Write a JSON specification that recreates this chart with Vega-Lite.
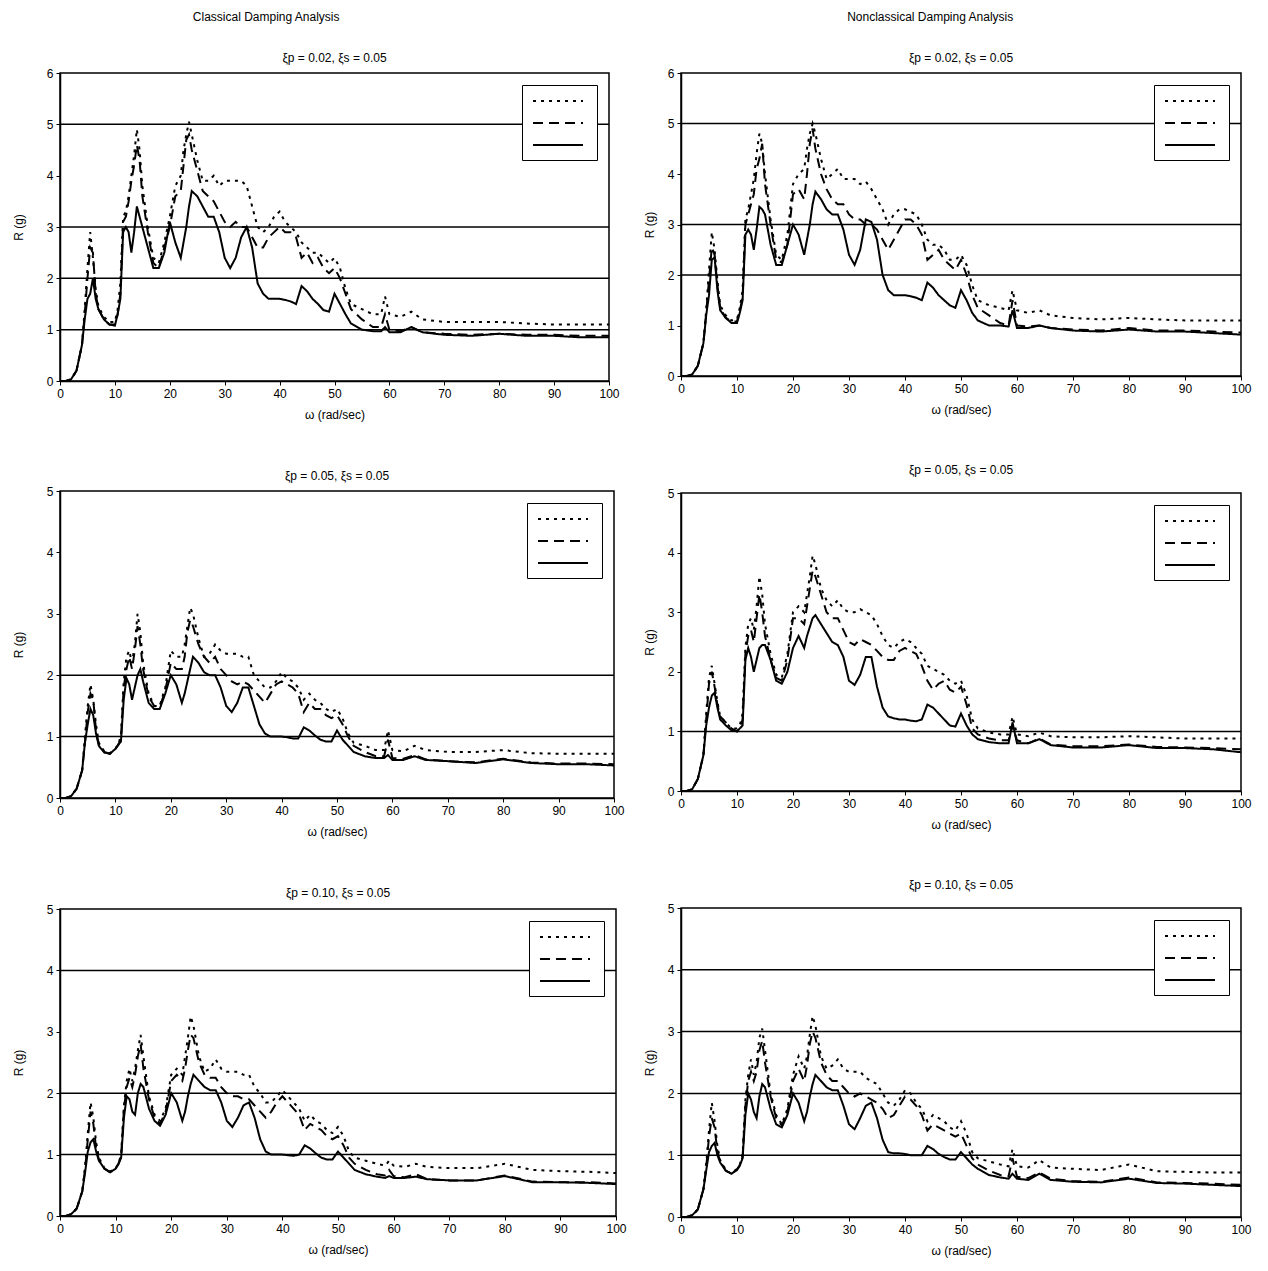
{
"$schema": "https://vega.github.io/schema/vega-lite/v6.json",
"background": "white",
"padding": {"left": 11, "top": 11, "right": 5, "bottom": 5},
"config": {
 "font": "Liberation Sans",
 "view": {"stroke": "black", "strokeWidth": 1.5},
 "axis": {"domainColor": "black", "domainWidth": 1.5, "tickColor": "black", "tickSize": 4, "labelColor": "black", "labelFontSize": 12, "labelFont": "Liberation Sans", "titleFont": "Liberation Sans", "titleFontSize": 12, "titleFontWeight": "normal", "titleColor": "black", "grid": false, "labelPadding": 3},
 "axisX": {"titlePadding": 10, "labelFlush": false},
 "title": {"font": "Liberation Sans", "fontSize": 12, "fontWeight": "normal", "color": "black", "offset": 9, "anchor": "middle"},
 "legend": {"orient": "top-right", "offset": 12, "title": null, "symbolType": "M-1,0L9,0", "symbolSize": 100, "symbolStrokeWidth": 2, "symbolStrokeColor": "black", "strokeColor": "black", "fillColor": "white", "padding": 10, "rowPadding": 11, "labelFontSize": 10, "labelOffset": 0}
},
"datasets": {
 "g": [{"p":1,"R":1},{"p":1,"R":2},{"p":1,"R":3},{"p":1,"R":5},{"p":2,"R":2},{"p":2,"R":3},{"p":2,"R":5},{"p":3,"R":1},{"p":3,"R":2},{"p":4,"R":1},{"p":5,"R":1},{"p":5,"R":2},{"p":5,"R":4},{"p":6,"R":1},{"p":6,"R":2},{"p":6,"R":3},{"p":6,"R":4}],
 "c": [
{"p":1,"x":0,"d":0,"m":0,"s":0},{"p":1,"x":1,"d":0,"m":0,"s":0},{"p":1,"x":2,"d":0.03,"m":0.03,"s":0.03},{"p":1,"x":3,"d":0.2,"m":0.2,"s":0.2},{"p":1,"x":4,"d":0.7,"m":0.7,"s":0.7},{"p":1,"x":4.5,"d":1.4,"m":1.3,"s":1.2},{"p":1,"x":5,"d":2.2,"m":2.0,"s":1.6},{"p":1,"x":5.5,"d":2.9,"m":2.6,"s":1.7},{"p":1,"x":6,"d":2.4,"m":2.5,"s":2.0},{"p":1,"x":6.5,"d":1.8,"m":1.7,"s":1.6},{"p":1,"x":7,"d":1.45,"m":1.4,"s":1.4},{"p":1,"x":8,"d":1.25,"m":1.2,"s":1.2},{"p":1,"x":9,"d":1.15,"m":1.1,"s":1.1},{"p":1,"x":10,"d":1.15,"m":1.1,"s":1.08},{"p":1,"x":10.5,"d":1.4,"m":1.3,"s":1.3},{"p":1,"x":11,"d":1.9,"m":1.7,"s":1.6},{"p":1,"x":11.5,"d":3.2,"m":3.1,"s":2.9},{"p":1,"x":12,"d":3.3,"m":3.2,"s":3.0},{"p":1,"x":12.5,"d":3.6,"m":3.5,"s":2.9},{"p":1,"x":13,"d":4.0,"m":3.9,"s":2.5},{"p":1,"x":13.5,"d":4.4,"m":4.2,"s":2.9},{"p":1,"x":14,"d":4.9,"m":4.6,"s":3.4},{"p":1,"x":14.5,"d":4.5,"m":4.3,"s":3.2},{"p":1,"x":15,"d":3.8,"m":3.6,"s":3.0},{"p":1,"x":16,"d":3.0,"m":2.9,"s":2.6},{"p":1,"x":17,"d":2.4,"m":2.3,"s":2.2},{"p":1,"x":18,"d":2.3,"m":2.2,"s":2.2},{"p":1,"x":19,"d":2.7,"m":2.6,"s":2.5},{"p":1,"x":20,"d":3.2,"m":3.0,"s":3.1},{"p":1,"x":21,"d":3.8,"m":3.6,"s":2.7},{"p":1,"x":22,"d":4.0,"m":3.7,"s":2.4},{"p":1,"x":22.5,"d":4.5,"m":4.2,"s":2.7},{"p":1,"x":23,"d":4.8,"m":4.7,"s":3.0},{"p":1,"x":23.5,"d":5.05,"m":4.8,"s":3.4},{"p":1,"x":24,"d":4.8,"m":4.5,"s":3.7},{"p":1,"x":25,"d":4.3,"m":4.1,"s":3.6},{"p":1,"x":26,"d":3.9,"m":3.7,"s":3.4},{"p":1,"x":27,"d":3.9,"m":3.6,"s":3.2},{"p":1,"x":28,"d":4.0,"m":3.5,"s":3.2},{"p":1,"x":29,"d":3.8,"m":3.3,"s":2.9},{"p":1,"x":30,"d":3.9,"m":3.1,"s":2.4},{"p":1,"x":31,"d":3.9,"m":3.0,"s":2.2},{"p":1,"x":32,"d":3.9,"m":3.1,"s":2.4},{"p":1,"x":33,"d":3.9,"m":3.0,"s":2.8},{"p":1,"x":34,"d":3.8,"m":3.0,"s":3.0},{"p":1,"x":35,"d":3.4,"m":2.8,"s":2.6},{"p":1,"x":36,"d":3.0,"m":2.6,"s":1.9},{"p":1,"x":37,"d":2.9,"m":2.6,"s":1.7},{"p":1,"x":38,"d":3.0,"m":2.8,"s":1.6},{"p":1,"x":39,"d":3.2,"m":2.9,"s":1.6},{"p":1,"x":40,"d":3.3,"m":3.0,"s":1.6},{"p":1,"x":41,"d":3.1,"m":2.9,"s":1.58},{"p":1,"x":42,"d":3.0,"m":2.9,"s":1.55},{"p":1,"x":43,"d":2.9,"m":2.8,"s":1.5},{"p":1,"x":44,"d":2.7,"m":2.4,"s":1.85},{"p":1,"x":45,"d":2.6,"m":2.5,"s":1.75},{"p":1,"x":46,"d":2.5,"m":2.3,"s":1.6},{"p":1,"x":47,"d":2.5,"m":2.4,"s":1.5},{"p":1,"x":48,"d":2.4,"m":2.2,"s":1.38},{"p":1,"x":49,"d":2.3,"m":2.1,"s":1.35},{"p":1,"x":50,"d":2.4,"m":2.2,"s":1.7},{"p":1,"x":51,"d":2.2,"m":2.0,"s":1.5},{"p":1,"x":52,"d":1.8,"m":1.7,"s":1.3},{"p":1,"x":53,"d":1.5,"m":1.4,"s":1.12},{"p":1,"x":55,"d":1.4,"m":1.2,"s":1.0},{"p":1,"x":57,"d":1.3,"m":1.05,"s":0.97},{"p":1,"x":58.5,"d":1.3,"m":1.05,"s":0.97},{"p":1,"x":59.2,"d":1.65,"m":1.3,"s":1.05},{"p":1,"x":60,"d":1.3,"m":1.0,"s":0.95},{"p":1,"x":62,"d":1.25,"m":0.97,"s":0.95},{"p":1,"x":64,"d":1.35,"m":1.05,"s":1.05},{"p":1,"x":66,"d":1.2,"m":0.95,"s":0.95},{"p":1,"x":70,"d":1.15,"m":0.92,"s":0.9},{"p":1,"x":75,"d":1.15,"m":0.9,"s":0.88},{"p":1,"x":80,"d":1.15,"m":0.92,"s":0.92},{"p":1,"x":85,"d":1.12,"m":0.9,"s":0.88},{"p":1,"x":90,"d":1.1,"m":0.9,"s":0.88},{"p":1,"x":95,"d":1.1,"m":0.88,"s":0.85},{"p":1,"x":100,"d":1.1,"m":0.88,"s":0.85},
{"p":2,"x":0,"d":0,"m":0,"s":0},{"p":2,"x":1,"d":0,"m":0,"s":0},{"p":2,"x":2,"d":0.03,"m":0.03,"s":0.03},{"p":2,"x":3,"d":0.2,"m":0.2,"s":0.2},{"p":2,"x":4,"d":0.65,"m":0.65,"s":0.65},{"p":2,"x":4.5,"d":1.3,"m":1.25,"s":1.2},{"p":2,"x":5,"d":2.1,"m":1.9,"s":1.6},{"p":2,"x":5.5,"d":2.85,"m":2.55,"s":2.3},{"p":2,"x":6,"d":2.5,"m":2.4,"s":2.35},{"p":2,"x":6.5,"d":1.9,"m":1.8,"s":1.7},{"p":2,"x":7,"d":1.4,"m":1.35,"s":1.3},{"p":2,"x":8,"d":1.2,"m":1.15,"s":1.15},{"p":2,"x":9,"d":1.1,"m":1.08,"s":1.05},{"p":2,"x":10,"d":1.12,"m":1.08,"s":1.05},{"p":2,"x":10.5,"d":1.35,"m":1.3,"s":1.25},{"p":2,"x":11,"d":1.7,"m":1.55,"s":1.5},{"p":2,"x":11.5,"d":3.1,"m":3.0,"s":2.8},{"p":2,"x":12,"d":3.3,"m":3.2,"s":2.9},{"p":2,"x":12.5,"d":3.6,"m":3.4,"s":2.8},{"p":2,"x":13,"d":3.9,"m":3.6,"s":2.5},{"p":2,"x":13.5,"d":4.4,"m":4.1,"s":2.9},{"p":2,"x":14,"d":4.8,"m":4.3,"s":3.35},{"p":2,"x":14.5,"d":4.6,"m":4.6,"s":3.3},{"p":2,"x":15,"d":4.0,"m":3.8,"s":3.2},{"p":2,"x":16,"d":3.1,"m":3.0,"s":2.6},{"p":2,"x":17,"d":2.4,"m":2.3,"s":2.2},{"p":2,"x":18,"d":2.3,"m":2.25,"s":2.2},{"p":2,"x":19,"d":2.8,"m":2.6,"s":2.6},{"p":2,"x":20,"d":3.8,"m":3.6,"s":3.0},{"p":2,"x":21,"d":4.0,"m":3.7,"s":2.8},{"p":2,"x":22,"d":4.1,"m":3.5,"s":2.4},{"p":2,"x":22.5,"d":4.5,"m":4.0,"s":2.7},{"p":2,"x":23,"d":4.8,"m":4.6,"s":3.0},{"p":2,"x":23.5,"d":5.0,"m":4.9,"s":3.4},{"p":2,"x":24,"d":4.8,"m":4.5,"s":3.65},{"p":2,"x":25,"d":4.3,"m":4.0,"s":3.5},{"p":2,"x":26,"d":3.9,"m":3.7,"s":3.3},{"p":2,"x":27,"d":4.0,"m":3.5,"s":3.2},{"p":2,"x":28,"d":4.1,"m":3.4,"s":3.2},{"p":2,"x":29,"d":3.9,"m":3.4,"s":2.9},{"p":2,"x":30,"d":3.9,"m":3.2,"s":2.4},{"p":2,"x":31,"d":3.9,"m":3.1,"s":2.2},{"p":2,"x":32,"d":3.8,"m":3.1,"s":2.5},{"p":2,"x":33,"d":3.85,"m":3.0,"s":3.1},{"p":2,"x":34,"d":3.7,"m":3.0,"s":3.05},{"p":2,"x":35,"d":3.5,"m":2.9,"s":2.7},{"p":2,"x":36,"d":3.3,"m":2.7,"s":2.0},{"p":2,"x":37,"d":3.0,"m":2.5,"s":1.7},{"p":2,"x":38,"d":3.2,"m":2.7,"s":1.6},{"p":2,"x":39,"d":3.3,"m":2.9,"s":1.6},{"p":2,"x":40,"d":3.3,"m":3.1,"s":1.6},{"p":2,"x":41,"d":3.25,"m":3.1,"s":1.58},{"p":2,"x":42,"d":3.2,"m":3.0,"s":1.55},{"p":2,"x":43,"d":3.0,"m":2.8,"s":1.5},{"p":2,"x":44,"d":2.7,"m":2.3,"s":1.85},{"p":2,"x":45,"d":2.6,"m":2.4,"s":1.75},{"p":2,"x":46,"d":2.6,"m":2.5,"s":1.6},{"p":2,"x":47,"d":2.5,"m":2.3,"s":1.5},{"p":2,"x":48,"d":2.3,"m":2.2,"s":1.4},{"p":2,"x":49,"d":2.3,"m":2.1,"s":1.35},{"p":2,"x":50,"d":2.4,"m":2.3,"s":1.7},{"p":2,"x":51,"d":2.2,"m":2.0,"s":1.5},{"p":2,"x":52,"d":1.8,"m":1.6,"s":1.25},{"p":2,"x":53,"d":1.5,"m":1.35,"s":1.1},{"p":2,"x":55,"d":1.4,"m":1.2,"s":1.0},{"p":2,"x":57,"d":1.35,"m":1.05,"s":1.0},{"p":2,"x":58.5,"d":1.3,"m":1.0,"s":0.98},{"p":2,"x":59.2,"d":1.7,"m":1.5,"s":1.3},{"p":2,"x":60,"d":1.3,"m":1.0,"s":0.95},{"p":2,"x":62,"d":1.25,"m":0.98,"s":0.95},{"p":2,"x":64,"d":1.3,"m":1.0,"s":1.0},{"p":2,"x":66,"d":1.2,"m":0.95,"s":0.95},{"p":2,"x":70,"d":1.15,"m":0.92,"s":0.9},{"p":2,"x":75,"d":1.12,"m":0.9,"s":0.88},{"p":2,"x":80,"d":1.15,"m":0.95,"s":0.92},{"p":2,"x":85,"d":1.12,"m":0.9,"s":0.88},{"p":2,"x":90,"d":1.1,"m":0.9,"s":0.88},{"p":2,"x":95,"d":1.1,"m":0.88,"s":0.85},{"p":2,"x":100,"d":1.1,"m":0.86,"s":0.82},
{"p":3,"x":0,"d":0,"m":0,"s":0},{"p":3,"x":1,"d":0,"m":0,"s":0},{"p":3,"x":2,"d":0.03,"m":0.03,"s":0.03},{"p":3,"x":3,"d":0.15,"m":0.15,"s":0.15},{"p":3,"x":4,"d":0.45,"m":0.45,"s":0.45},{"p":3,"x":4.5,"d":1.0,"m":0.9,"s":0.9},{"p":3,"x":5,"d":1.5,"m":1.4,"s":1.2},{"p":3,"x":5.5,"d":1.85,"m":1.7,"s":1.45},{"p":3,"x":6,"d":1.6,"m":1.6,"s":1.35},{"p":3,"x":6.5,"d":1.2,"m":1.1,"s":1.05},{"p":3,"x":7,"d":0.9,"m":0.88,"s":0.85},{"p":3,"x":8,"d":0.76,"m":0.75,"s":0.74},{"p":3,"x":9,"d":0.73,"m":0.72,"s":0.72},{"p":3,"x":10,"d":0.8,"m":0.8,"s":0.8},{"p":3,"x":10.5,"d":0.88,"m":0.87,"s":0.86},{"p":3,"x":11,"d":1.0,"m":0.95,"s":0.92},{"p":3,"x":11.5,"d":1.9,"m":1.8,"s":1.6},{"p":3,"x":12,"d":2.3,"m":2.1,"s":1.95},{"p":3,"x":12.5,"d":2.4,"m":2.3,"s":1.85},{"p":3,"x":13,"d":2.2,"m":2.1,"s":1.6},{"p":3,"x":13.5,"d":2.5,"m":2.4,"s":1.8},{"p":3,"x":14,"d":3.0,"m":2.8,"s":2.0},{"p":3,"x":14.5,"d":2.7,"m":2.5,"s":2.1},{"p":3,"x":15,"d":2.2,"m":2.1,"s":1.9},{"p":3,"x":16,"d":1.7,"m":1.65,"s":1.55},{"p":3,"x":17,"d":1.5,"m":1.5,"s":1.45},{"p":3,"x":18,"d":1.5,"m":1.48,"s":1.45},{"p":3,"x":19,"d":1.8,"m":1.75,"s":1.7},{"p":3,"x":20,"d":2.4,"m":2.2,"s":2.0},{"p":3,"x":21,"d":2.3,"m":2.1,"s":1.85},{"p":3,"x":22,"d":2.3,"m":2.1,"s":1.55},{"p":3,"x":22.5,"d":2.5,"m":2.3,"s":1.7},{"p":3,"x":23,"d":2.8,"m":2.7,"s":1.9},{"p":3,"x":23.5,"d":3.1,"m":2.9,"s":2.1},{"p":3,"x":24,"d":3.0,"m":2.8,"s":2.3},{"p":3,"x":25,"d":2.6,"m":2.5,"s":2.2},{"p":3,"x":26,"d":2.3,"m":2.3,"s":2.05},{"p":3,"x":27,"d":2.35,"m":2.2,"s":2.0},{"p":3,"x":28,"d":2.5,"m":2.3,"s":2.0},{"p":3,"x":29,"d":2.4,"m":2.1,"s":1.8},{"p":3,"x":30,"d":2.35,"m":2.0,"s":1.5},{"p":3,"x":31,"d":2.35,"m":1.9,"s":1.4},{"p":3,"x":32,"d":2.35,"m":1.85,"s":1.55},{"p":3,"x":33,"d":2.3,"m":1.9,"s":1.8},{"p":3,"x":34,"d":2.3,"m":1.85,"s":1.8},{"p":3,"x":35,"d":2.0,"m":1.75,"s":1.5},{"p":3,"x":36,"d":1.9,"m":1.65,"s":1.2},{"p":3,"x":37,"d":1.8,"m":1.55,"s":1.05},{"p":3,"x":38,"d":1.8,"m":1.7,"s":1.0},{"p":3,"x":39,"d":1.9,"m":1.85,"s":1.0},{"p":3,"x":40,"d":2.05,"m":1.9,"s":1.0},{"p":3,"x":41,"d":1.95,"m":1.85,"s":0.99},{"p":3,"x":42,"d":1.9,"m":1.8,"s":0.97},{"p":3,"x":43,"d":1.8,"m":1.7,"s":0.97},{"p":3,"x":44,"d":1.6,"m":1.4,"s":1.15},{"p":3,"x":45,"d":1.7,"m":1.55,"s":1.1},{"p":3,"x":46,"d":1.6,"m":1.45,"s":1.02},{"p":3,"x":47,"d":1.55,"m":1.45,"s":0.95},{"p":3,"x":48,"d":1.45,"m":1.35,"s":0.92},{"p":3,"x":49,"d":1.4,"m":1.3,"s":0.92},{"p":3,"x":50,"d":1.45,"m":1.35,"s":1.1},{"p":3,"x":51,"d":1.3,"m":1.2,"s":0.95},{"p":3,"x":52,"d":1.05,"m":1.0,"s":0.85},{"p":3,"x":53,"d":0.9,"m":0.85,"s":0.75},{"p":3,"x":55,"d":0.85,"m":0.75,"s":0.68},{"p":3,"x":57,"d":0.78,"m":0.68,"s":0.65},{"p":3,"x":58.5,"d":0.78,"m":0.68,"s":0.65},{"p":3,"x":59.2,"d":1.1,"m":0.95,"s":0.7},{"p":3,"x":60,"d":0.78,"m":0.65,"s":0.62},{"p":3,"x":62,"d":0.76,"m":0.64,"s":0.62},{"p":3,"x":64,"d":0.85,"m":0.7,"s":0.68},{"p":3,"x":66,"d":0.78,"m":0.63,"s":0.62},{"p":3,"x":70,"d":0.75,"m":0.6,"s":0.6},{"p":3,"x":75,"d":0.75,"m":0.58,"s":0.57},{"p":3,"x":80,"d":0.78,"m":0.64,"s":0.63},{"p":3,"x":85,"d":0.73,"m":0.58,"s":0.57},{"p":3,"x":90,"d":0.72,"m":0.56,"s":0.55},{"p":3,"x":95,"d":0.72,"m":0.56,"s":0.55},{"p":3,"x":100,"d":0.72,"m":0.55,"s":0.53},
{"p":4,"x":0,"d":0,"m":0,"s":0},{"p":4,"x":1,"d":0,"m":0,"s":0},{"p":4,"x":2,"d":0.03,"m":0.03,"s":0.03},{"p":4,"x":3,"d":0.2,"m":0.2,"s":0.2},{"p":4,"x":4,"d":0.6,"m":0.6,"s":0.6},{"p":4,"x":4.5,"d":1.3,"m":1.2,"s":1.1},{"p":4,"x":5,"d":1.9,"m":1.8,"s":1.4},{"p":4,"x":5.5,"d":2.1,"m":2.0,"s":1.6},{"p":4,"x":6,"d":1.8,"m":1.75,"s":1.65},{"p":4,"x":6.5,"d":1.5,"m":1.45,"s":1.4},{"p":4,"x":7,"d":1.25,"m":1.25,"s":1.2},{"p":4,"x":8,"d":1.15,"m":1.15,"s":1.1},{"p":4,"x":9,"d":1.05,"m":1.05,"s":1.02},{"p":4,"x":10,"d":1.05,"m":1.0,"s":1.0},{"p":4,"x":10.5,"d":1.1,"m":1.05,"s":1.05},{"p":4,"x":11,"d":1.3,"m":1.2,"s":1.1},{"p":4,"x":11.5,"d":2.4,"m":2.3,"s":2.2},{"p":4,"x":12,"d":2.8,"m":2.6,"s":2.4},{"p":4,"x":12.5,"d":2.9,"m":2.7,"s":2.25},{"p":4,"x":13,"d":2.7,"m":2.5,"s":2.0},{"p":4,"x":13.5,"d":3.1,"m":2.9,"s":2.2},{"p":4,"x":14,"d":3.6,"m":3.3,"s":2.4},{"p":4,"x":14.5,"d":3.3,"m":3.0,"s":2.45},{"p":4,"x":15,"d":2.8,"m":2.6,"s":2.45},{"p":4,"x":16,"d":2.3,"m":2.2,"s":2.2},{"p":4,"x":17,"d":1.95,"m":1.9,"s":1.85},{"p":4,"x":18,"d":1.9,"m":1.85,"s":1.8},{"p":4,"x":19,"d":2.3,"m":2.2,"s":2.0},{"p":4,"x":20,"d":3.0,"m":2.9,"s":2.4},{"p":4,"x":21,"d":3.1,"m":2.9,"s":2.6},{"p":4,"x":22,"d":3.0,"m":2.8,"s":2.4},{"p":4,"x":22.5,"d":3.3,"m":3.1,"s":2.6},{"p":4,"x":23,"d":3.6,"m":3.4,"s":2.75},{"p":4,"x":23.5,"d":3.95,"m":3.7,"s":2.9},{"p":4,"x":24,"d":3.8,"m":3.6,"s":2.95},{"p":4,"x":25,"d":3.4,"m":3.3,"s":2.8},{"p":4,"x":26,"d":3.2,"m":3.0,"s":2.65},{"p":4,"x":27,"d":3.1,"m":2.9,"s":2.5},{"p":4,"x":28,"d":3.2,"m":2.9,"s":2.45},{"p":4,"x":29,"d":3.05,"m":2.7,"s":2.25},{"p":4,"x":30,"d":3.0,"m":2.5,"s":1.85},{"p":4,"x":31,"d":3.0,"m":2.45,"s":1.78},{"p":4,"x":32,"d":3.05,"m":2.55,"s":1.95},{"p":4,"x":33,"d":3.0,"m":2.5,"s":2.25},{"p":4,"x":34,"d":2.95,"m":2.45,"s":2.25},{"p":4,"x":35,"d":2.8,"m":2.35,"s":1.75},{"p":4,"x":36,"d":2.6,"m":2.25,"s":1.4},{"p":4,"x":37,"d":2.45,"m":2.2,"s":1.25},{"p":4,"x":38,"d":2.4,"m":2.2,"s":1.22},{"p":4,"x":39,"d":2.5,"m":2.35,"s":1.2},{"p":4,"x":40,"d":2.55,"m":2.4,"s":1.2},{"p":4,"x":41,"d":2.5,"m":2.35,"s":1.18},{"p":4,"x":42,"d":2.4,"m":2.3,"s":1.17},{"p":4,"x":43,"d":2.3,"m":2.1,"s":1.2},{"p":4,"x":44,"d":2.1,"m":1.85,"s":1.45},{"p":4,"x":45,"d":2.05,"m":1.7,"s":1.4},{"p":4,"x":46,"d":2.0,"m":1.8,"s":1.3},{"p":4,"x":47,"d":1.95,"m":1.85,"s":1.2},{"p":4,"x":48,"d":1.85,"m":1.7,"s":1.1},{"p":4,"x":49,"d":1.8,"m":1.65,"s":1.08},{"p":4,"x":50,"d":1.85,"m":1.75,"s":1.3},{"p":4,"x":51,"d":1.6,"m":1.45,"s":1.1},{"p":4,"x":52,"d":1.2,"m":1.05,"s":0.95},{"p":4,"x":53,"d":1.05,"m":0.95,"s":0.87},{"p":4,"x":55,"d":0.98,"m":0.88,"s":0.82},{"p":4,"x":57,"d":0.95,"m":0.85,"s":0.8},{"p":4,"x":58.5,"d":0.95,"m":0.85,"s":0.8},{"p":4,"x":59.2,"d":1.25,"m":1.1,"s":1.15},{"p":4,"x":60,"d":0.95,"m":0.85,"s":0.8},{"p":4,"x":62,"d":0.92,"m":0.8,"s":0.8},{"p":4,"x":64,"d":0.98,"m":0.88,"s":0.87},{"p":4,"x":66,"d":0.92,"m":0.78,"s":0.77},{"p":4,"x":70,"d":0.9,"m":0.75,"s":0.73},{"p":4,"x":75,"d":0.9,"m":0.75,"s":0.73},{"p":4,"x":80,"d":0.92,"m":0.78,"s":0.77},{"p":4,"x":85,"d":0.9,"m":0.74,"s":0.72},{"p":4,"x":90,"d":0.88,"m":0.73,"s":0.72},{"p":4,"x":95,"d":0.88,"m":0.72,"s":0.7},{"p":4,"x":100,"d":0.88,"m":0.7,"s":0.65},
{"p":5,"x":0,"d":0,"m":0,"s":0},{"p":5,"x":1,"d":0,"m":0,"s":0},{"p":5,"x":2,"d":0.03,"m":0.03,"s":0.03},{"p":5,"x":3,"d":0.12,"m":0.12,"s":0.12},{"p":5,"x":4,"d":0.4,"m":0.4,"s":0.4},{"p":5,"x":4.5,"d":0.8,"m":0.75,"s":0.7},{"p":5,"x":5,"d":1.35,"m":1.25,"s":1.05},{"p":5,"x":5.5,"d":1.85,"m":1.7,"s":1.2},{"p":5,"x":6,"d":1.6,"m":1.5,"s":1.25},{"p":5,"x":6.5,"d":1.2,"m":1.1,"s":1.05},{"p":5,"x":7,"d":0.95,"m":0.92,"s":0.9},{"p":5,"x":8,"d":0.78,"m":0.77,"s":0.77},{"p":5,"x":9,"d":0.72,"m":0.72,"s":0.71},{"p":5,"x":10,"d":0.78,"m":0.78,"s":0.77},{"p":5,"x":10.5,"d":0.85,"m":0.85,"s":0.84},{"p":5,"x":11,"d":1.0,"m":0.97,"s":0.95},{"p":5,"x":11.5,"d":1.8,"m":1.75,"s":1.6},{"p":5,"x":12,"d":2.2,"m":2.1,"s":1.95},{"p":5,"x":12.5,"d":2.4,"m":2.25,"s":1.9},{"p":5,"x":13,"d":2.2,"m":2.1,"s":1.7},{"p":5,"x":13.5,"d":2.4,"m":2.3,"s":1.65},{"p":5,"x":14,"d":2.7,"m":2.6,"s":2.0},{"p":5,"x":14.5,"d":2.95,"m":2.8,"s":2.15},{"p":5,"x":15,"d":2.6,"m":2.4,"s":2.1},{"p":5,"x":16,"d":1.95,"m":1.9,"s":1.75},{"p":5,"x":17,"d":1.65,"m":1.6,"s":1.55},{"p":5,"x":18,"d":1.55,"m":1.5,"s":1.47},{"p":5,"x":19,"d":1.75,"m":1.7,"s":1.65},{"p":5,"x":20,"d":2.3,"m":2.2,"s":2.0},{"p":5,"x":21,"d":2.4,"m":2.3,"s":1.85},{"p":5,"x":22,"d":2.3,"m":2.2,"s":1.55},{"p":5,"x":22.5,"d":2.6,"m":2.4,"s":1.7},{"p":5,"x":23,"d":2.9,"m":2.7,"s":1.95},{"p":5,"x":23.5,"d":3.25,"m":2.95,"s":2.15},{"p":5,"x":24,"d":3.1,"m":2.9,"s":2.3},{"p":5,"x":25,"d":2.6,"m":2.5,"s":2.2},{"p":5,"x":26,"d":2.35,"m":2.3,"s":2.1},{"p":5,"x":27,"d":2.4,"m":2.25,"s":2.05},{"p":5,"x":28,"d":2.55,"m":2.25,"s":2.05},{"p":5,"x":29,"d":2.4,"m":2.1,"s":1.85},{"p":5,"x":30,"d":2.35,"m":2.0,"s":1.55},{"p":5,"x":31,"d":2.35,"m":1.95,"s":1.45},{"p":5,"x":32,"d":2.35,"m":1.95,"s":1.6},{"p":5,"x":33,"d":2.3,"m":1.9,"s":1.8},{"p":5,"x":34,"d":2.3,"m":1.9,"s":1.85},{"p":5,"x":35,"d":2.1,"m":1.8,"s":1.6},{"p":5,"x":36,"d":2.0,"m":1.7,"s":1.25},{"p":5,"x":37,"d":1.85,"m":1.6,"s":1.05},{"p":5,"x":38,"d":1.85,"m":1.7,"s":1.0},{"p":5,"x":39,"d":1.95,"m":1.85,"s":1.0},{"p":5,"x":40,"d":2.05,"m":1.95,"s":1.0},{"p":5,"x":41,"d":1.95,"m":1.85,"s":0.99},{"p":5,"x":42,"d":1.85,"m":1.75,"s":0.98},{"p":5,"x":43,"d":1.75,"m":1.65,"s":1.0},{"p":5,"x":44,"d":1.55,"m":1.4,"s":1.15},{"p":5,"x":45,"d":1.65,"m":1.5,"s":1.1},{"p":5,"x":46,"d":1.55,"m":1.45,"s":1.02},{"p":5,"x":47,"d":1.5,"m":1.4,"s":0.95},{"p":5,"x":48,"d":1.4,"m":1.3,"s":0.92},{"p":5,"x":49,"d":1.35,"m":1.25,"s":0.92},{"p":5,"x":50,"d":1.45,"m":1.3,"s":1.05},{"p":5,"x":51,"d":1.3,"m":1.15,"s":0.95},{"p":5,"x":52,"d":1.05,"m":0.95,"s":0.85},{"p":5,"x":53,"d":0.95,"m":0.85,"s":0.75},{"p":5,"x":55,"d":0.9,"m":0.75,"s":0.68},{"p":5,"x":57,"d":0.85,"m":0.68,"s":0.64},{"p":5,"x":58.5,"d":0.82,"m":0.66,"s":0.62},{"p":5,"x":59.2,"d":0.9,"m":0.75,"s":0.65},{"p":5,"x":60,"d":0.82,"m":0.65,"s":0.62},{"p":5,"x":62,"d":0.8,"m":0.63,"s":0.62},{"p":5,"x":64,"d":0.85,"m":0.68,"s":0.64},{"p":5,"x":66,"d":0.8,"m":0.6,"s":0.6},{"p":5,"x":70,"d":0.78,"m":0.58,"s":0.58},{"p":5,"x":75,"d":0.78,"m":0.58,"s":0.58},{"p":5,"x":80,"d":0.85,"m":0.66,"s":0.65},{"p":5,"x":85,"d":0.75,"m":0.56,"s":0.55},{"p":5,"x":90,"d":0.73,"m":0.55,"s":0.55},{"p":5,"x":95,"d":0.72,"m":0.55,"s":0.54},{"p":5,"x":100,"d":0.7,"m":0.53,"s":0.52},
{"p":6,"x":0,"d":0,"m":0,"s":0},{"p":6,"x":1,"d":0,"m":0,"s":0},{"p":6,"x":2,"d":0.03,"m":0.03,"s":0.03},{"p":6,"x":3,"d":0.12,"m":0.12,"s":0.12},{"p":6,"x":4,"d":0.45,"m":0.45,"s":0.45},{"p":6,"x":4.5,"d":0.85,"m":0.8,"s":0.75},{"p":6,"x":5,"d":1.4,"m":1.3,"s":1.05},{"p":6,"x":5.5,"d":1.85,"m":1.6,"s":1.15},{"p":6,"x":6,"d":1.55,"m":1.45,"s":1.2},{"p":6,"x":6.5,"d":1.15,"m":1.05,"s":1.0},{"p":6,"x":7,"d":0.92,"m":0.9,"s":0.88},{"p":6,"x":8,"d":0.76,"m":0.75,"s":0.75},{"p":6,"x":9,"d":0.7,"m":0.7,"s":0.7},{"p":6,"x":10,"d":0.78,"m":0.77,"s":0.76},{"p":6,"x":10.5,"d":0.85,"m":0.84,"s":0.83},{"p":6,"x":11,"d":1.0,"m":0.97,"s":0.95},{"p":6,"x":11.5,"d":1.9,"m":1.8,"s":1.65},{"p":6,"x":12,"d":2.3,"m":2.2,"s":2.0},{"p":6,"x":12.5,"d":2.55,"m":2.35,"s":1.9},{"p":6,"x":13,"d":2.3,"m":2.2,"s":1.7},{"p":6,"x":13.5,"d":2.5,"m":2.35,"s":1.6},{"p":6,"x":14,"d":2.9,"m":2.7,"s":1.95},{"p":6,"x":14.5,"d":3.05,"m":2.85,"s":2.15},{"p":6,"x":15,"d":2.7,"m":2.5,"s":2.1},{"p":6,"x":16,"d":2.0,"m":1.95,"s":1.75},{"p":6,"x":17,"d":1.65,"m":1.6,"s":1.5},{"p":6,"x":18,"d":1.5,"m":1.48,"s":1.45},{"p":6,"x":19,"d":1.75,"m":1.7,"s":1.65},{"p":6,"x":20,"d":2.3,"m":2.2,"s":2.0},{"p":6,"x":21,"d":2.6,"m":2.4,"s":1.85},{"p":6,"x":22,"d":2.4,"m":2.2,"s":1.55},{"p":6,"x":22.5,"d":2.6,"m":2.45,"s":1.7},{"p":6,"x":23,"d":2.95,"m":2.8,"s":1.95},{"p":6,"x":23.5,"d":3.25,"m":3.0,"s":2.15},{"p":6,"x":24,"d":3.1,"m":2.9,"s":2.3},{"p":6,"x":25,"d":2.6,"m":2.5,"s":2.2},{"p":6,"x":26,"d":2.4,"m":2.3,"s":2.1},{"p":6,"x":27,"d":2.45,"m":2.2,"s":2.05},{"p":6,"x":28,"d":2.55,"m":2.2,"s":2.05},{"p":6,"x":29,"d":2.4,"m":2.1,"s":1.8},{"p":6,"x":30,"d":2.35,"m":2.0,"s":1.5},{"p":6,"x":31,"d":2.35,"m":1.95,"s":1.42},{"p":6,"x":32,"d":2.35,"m":2.0,"s":1.6},{"p":6,"x":33,"d":2.25,"m":1.95,"s":1.8},{"p":6,"x":34,"d":2.2,"m":1.9,"s":1.85},{"p":6,"x":35,"d":2.15,"m":1.85,"s":1.6},{"p":6,"x":36,"d":2.0,"m":1.75,"s":1.25},{"p":6,"x":37,"d":1.85,"m":1.6,"s":1.05},{"p":6,"x":38,"d":1.8,"m":1.65,"s":1.03},{"p":6,"x":39,"d":1.9,"m":1.8,"s":1.03},{"p":6,"x":40,"d":2.05,"m":1.95,"s":1.02},{"p":6,"x":41,"d":2.0,"m":1.9,"s":1.0},{"p":6,"x":42,"d":1.85,"m":1.8,"s":1.0},{"p":6,"x":43,"d":1.75,"m":1.65,"s":1.0},{"p":6,"x":44,"d":1.55,"m":1.4,"s":1.15},{"p":6,"x":45,"d":1.65,"m":1.5,"s":1.1},{"p":6,"x":46,"d":1.6,"m":1.45,"s":1.02},{"p":6,"x":47,"d":1.55,"m":1.4,"s":0.97},{"p":6,"x":48,"d":1.45,"m":1.35,"s":0.93},{"p":6,"x":49,"d":1.4,"m":1.3,"s":0.93},{"p":6,"x":50,"d":1.55,"m":1.35,"s":1.05},{"p":6,"x":51,"d":1.35,"m":1.15,"s":0.95},{"p":6,"x":52,"d":1.05,"m":0.95,"s":0.85},{"p":6,"x":53,"d":0.95,"m":0.85,"s":0.78},{"p":6,"x":55,"d":0.9,"m":0.75,"s":0.68},{"p":6,"x":57,"d":0.85,"m":0.68,"s":0.64},{"p":6,"x":58.5,"d":0.82,"m":0.66,"s":0.62},{"p":6,"x":59.2,"d":1.1,"m":0.95,"s":0.7},{"p":6,"x":60,"d":0.82,"m":0.65,"s":0.62},{"p":6,"x":62,"d":0.8,"m":0.63,"s":0.6},{"p":6,"x":64,"d":0.92,"m":0.72,"s":0.7},{"p":6,"x":66,"d":0.8,"m":0.62,"s":0.6},{"p":6,"x":70,"d":0.78,"m":0.58,"s":0.57},{"p":6,"x":75,"d":0.76,"m":0.57,"s":0.56},{"p":6,"x":80,"d":0.85,"m":0.64,"s":0.62},{"p":6,"x":85,"d":0.74,"m":0.56,"s":0.55},{"p":6,"x":90,"d":0.73,"m":0.55,"s":0.54},{"p":6,"x":95,"d":0.72,"m":0.54,"s":0.52},{"p":6,"x":100,"d":0.72,"m":0.52,"s":0.5}
 ]
},
"spacing": 15,
"resolve": {"scale": {"strokeDash": "independent"}, "legend": {"strokeDash": "independent"}},
"hconcat": [
 {"title": {"text": "Classical Damping Analysis", "dx": -53, "offset": 27, "anchor": "middle"},
  "spacing": 48,
  "resolve": {"scale": {"strokeDash": "independent"}, "legend": {"strokeDash": "independent"}},
  "vconcat": [
   {"width": 549, "height": 308, "title": {"text": "ξp = 0.02, ξs = 0.05", "offset": 2},
    "encoding": {"y": {"field": "R", "type": "quantitative", "scale": {"domain": [0, 6], "nice": false}, "axis": {"values": [0,1,2,3,4,5,6], "title": "R (g)", "titlePadding": 21}}},
    "layer": [
     {"data": {"name": "g"}, "transform": [{"filter": "datum.p == 1"}], "mark": {"type": "rule", "color": "black", "strokeWidth": 1.5}},
     {"data": {"name": "c"}, "transform": [{"filter": "datum.p == 1"}, {"fold": ["d", "m", "s"], "as": ["k", "R"]}],
      "mark": {"type": "line", "color": "black", "strokeWidth": 2},
      "encoding": {
       "x": {"field": "x", "type": "quantitative", "scale": {"domain": [0, 100], "nice": false}, "axis": {"values": [0,10,20,30,40,50,60,70,80,90,100], "title": "ω (rad/sec)"}},
       "strokeDash": {"field": "k", "type": "nominal", "scale": {"domain": ["d","m","s"], "range": [[3,5],[10,6],[1,0]]}, "legend": {"labelExpr": "''"}}
      }}
    ]},
   {"width": 554, "height": 307, "title": {"text": "ξp = 0.05, ξs = 0.05", "offset": 2},
    "encoding": {"y": {"field": "R", "type": "quantitative", "scale": {"domain": [0, 5], "nice": false}, "axis": {"values": [0,1,2,3,4,5], "title": "R (g)", "titlePadding": 21}}},
    "layer": [
     {"data": {"name": "g"}, "transform": [{"filter": "datum.p == 3"}], "mark": {"type": "rule", "color": "black", "strokeWidth": 1.5}},
     {"data": {"name": "c"}, "transform": [{"filter": "datum.p == 3"}, {"fold": ["d", "m", "s"], "as": ["k", "R"]}],
      "mark": {"type": "line", "color": "black", "strokeWidth": 2},
      "encoding": {
       "x": {"field": "x", "type": "quantitative", "scale": {"domain": [0, 100], "nice": false}, "axis": {"values": [0,10,20,30,40,50,60,70,80,90,100], "title": "ω (rad/sec)"}},
       "strokeDash": {"field": "k", "type": "nominal", "scale": {"domain": ["d","m","s"], "range": [[3,5],[10,6],[1,0]]}, "legend": {"labelExpr": "''"}}
      }}
    ]},
   {"width": 556, "height": 307, "title": {"text": "ξp = 0.10, ξs = 0.05", "offset": 3},
    "encoding": {"y": {"field": "R", "type": "quantitative", "scale": {"domain": [0, 5], "nice": false}, "axis": {"values": [0,1,2,3,4,5], "title": "R (g)", "titlePadding": 21}}},
    "layer": [
     {"data": {"name": "g"}, "transform": [{"filter": "datum.p == 5"}], "mark": {"type": "rule", "color": "black", "strokeWidth": 1.5}},
     {"data": {"name": "c"}, "transform": [{"filter": "datum.p == 5"}, {"fold": ["d", "m", "s"], "as": ["k", "R"]}],
      "mark": {"type": "line", "color": "black", "strokeWidth": 2},
      "encoding": {
       "x": {"field": "x", "type": "quantitative", "scale": {"domain": [0, 100], "nice": false}, "axis": {"values": [0,10,20,30,40,50,60,70,80,90,100], "title": "ω (rad/sec)"}},
       "strokeDash": {"field": "k", "type": "nominal", "scale": {"domain": ["d","m","s"], "range": [[3,5],[10,6],[1,0]]}, "legend": {"labelExpr": "''"}}
      }}
    ]}
  ]},
 {"title": {"text": "Nonclassical Damping Analysis", "dx": -17, "offset": 27, "anchor": "middle"},
  "spacing": 47,
  "resolve": {"scale": {"strokeDash": "independent"}, "legend": {"strokeDash": "independent"}},
  "vconcat": [
   {"width": 560, "height": 303, "title": {"text": "ξp = 0.02, ξs = 0.05", "offset": 2},
    "encoding": {"y": {"field": "R", "type": "quantitative", "scale": {"domain": [0, 6], "nice": false}, "axis": {"values": [0,1,2,3,4,5,6], "title": "R (g)", "titlePadding": 11}}},
    "layer": [
     {"data": {"name": "g"}, "transform": [{"filter": "datum.p == 2"}], "mark": {"type": "rule", "color": "black", "strokeWidth": 1.5}},
     {"data": {"name": "c"}, "transform": [{"filter": "datum.p == 2"}, {"fold": ["d", "m", "s"], "as": ["k", "R"]}],
      "mark": {"type": "line", "color": "black", "strokeWidth": 2},
      "encoding": {
       "x": {"field": "x", "type": "quantitative", "scale": {"domain": [0, 100], "nice": false}, "axis": {"values": [0,10,20,30,40,50,60,70,80,90,100], "title": "ω (rad/sec)"}},
       "strokeDash": {"field": "k", "type": "nominal", "scale": {"domain": ["d","m","s"], "range": [[3,5],[10,6],[1,0]]}, "legend": {"labelExpr": "''"}}
      }}
    ]},
   {"width": 560, "height": 298, "title": {"text": "ξp = 0.05, ξs = 0.05", "offset": 10},
    "encoding": {"y": {"field": "R", "type": "quantitative", "scale": {"domain": [0, 5], "nice": false}, "axis": {"values": [0,1,2,3,4,5], "title": "R (g)", "titlePadding": 11}}},
    "layer": [
     {"data": {"name": "g"}, "transform": [{"filter": "datum.p == 4"}], "mark": {"type": "rule", "color": "black", "strokeWidth": 1.5}},
     {"data": {"name": "c"}, "transform": [{"filter": "datum.p == 4"}, {"fold": ["d", "m", "s"], "as": ["k", "R"]}],
      "mark": {"type": "line", "color": "black", "strokeWidth": 2},
      "encoding": {
       "x": {"field": "x", "type": "quantitative", "scale": {"domain": [0, 100], "nice": false}, "axis": {"values": [0,10,20,30,40,50,60,70,80,90,100], "title": "ω (rad/sec)"}},
       "strokeDash": {"field": "k", "type": "nominal", "scale": {"domain": ["d","m","s"], "range": [[3,5],[10,6],[1,0]]}, "legend": {"labelExpr": "''"}}
      }}
    ]},
   {"width": 560, "height": 309, "title": {"text": "ξp = 0.10, ξs = 0.05", "offset": 10},
    "encoding": {"y": {"field": "R", "type": "quantitative", "scale": {"domain": [0, 5], "nice": false}, "axis": {"values": [0,1,2,3,4,5], "title": "R (g)", "titlePadding": 11}}},
    "layer": [
     {"data": {"name": "g"}, "transform": [{"filter": "datum.p == 6"}], "mark": {"type": "rule", "color": "black", "strokeWidth": 1.5}},
     {"data": {"name": "c"}, "transform": [{"filter": "datum.p == 6"}, {"fold": ["d", "m", "s"], "as": ["k", "R"]}],
      "mark": {"type": "line", "color": "black", "strokeWidth": 2},
      "encoding": {
       "x": {"field": "x", "type": "quantitative", "scale": {"domain": [0, 100], "nice": false}, "axis": {"values": [0,10,20,30,40,50,60,70,80,90,100], "title": "ω (rad/sec)"}},
       "strokeDash": {"field": "k", "type": "nominal", "scale": {"domain": ["d","m","s"], "range": [[3,5],[10,6],[1,0]]}, "legend": {"labelExpr": "''"}}
      }}
    ]}
  ]}
]
}
